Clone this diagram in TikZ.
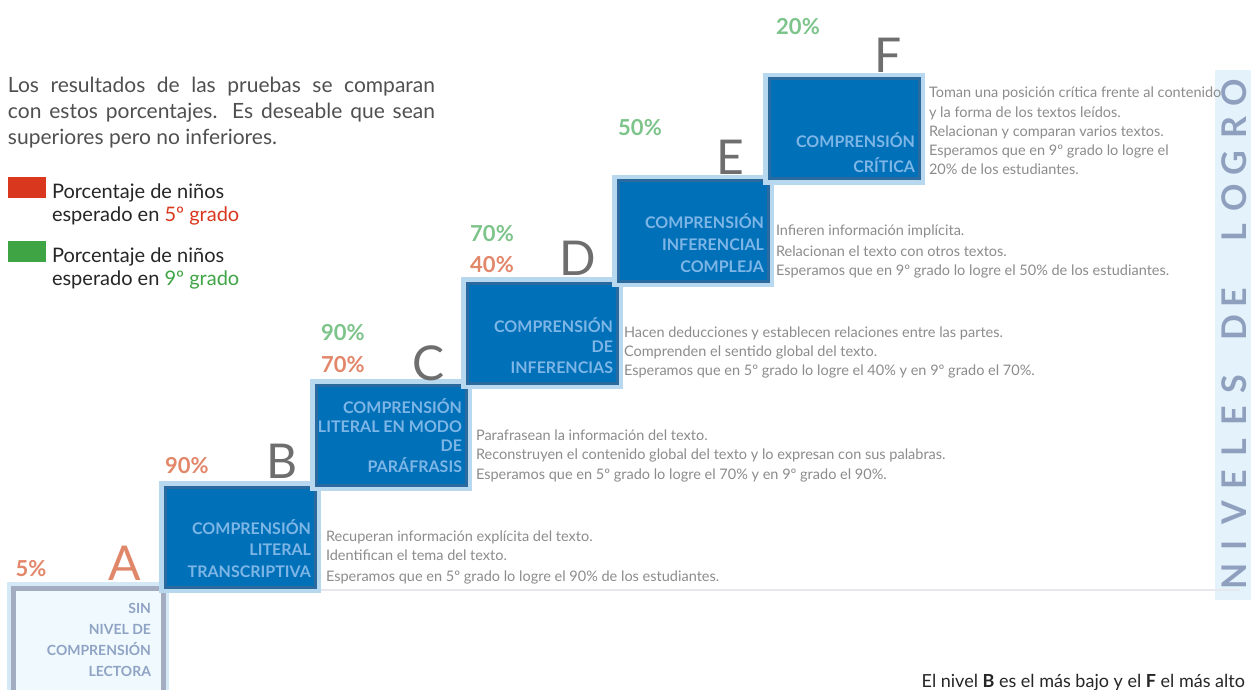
\documentclass[tikz,border=0pt]{standalone}
\usepackage{fontspec}
\setmainfont{Lato}
\newcommand\myfs[2]{\fontsize{#1}{#2}\selectfont}
\definecolor{boxblue}{HTML}{0070B8}
\definecolor{boxedge}{HTML}{2A6A9E}
\definecolor{glow}{HTML}{B8D8F0}
\definecolor{boxtxt}{HTML}{7DB6E6}
\definecolor{abox}{HTML}{A4ACC2}
\definecolor{aboxfill}{HTML}{F0F9FD}
\definecolor{aboxtxt}{HTML}{8FA3C4}
\definecolor{desctxt}{HTML}{8C8C8C}
\definecolor{lettergray}{HTML}{6E6E6E}
\definecolor{lettera}{HTML}{E0876A}
\definecolor{pctred}{HTML}{E2876A}
\definecolor{pctgreen}{HTML}{7DC48B}
\definecolor{legred}{HTML}{D9381E}
\definecolor{leggreen}{HTML}{3FA544}
\definecolor{vband}{HTML}{E4F2FB}
\definecolor{vtext}{HTML}{8FA0BF}
\definecolor{paratxt}{HTML}{505050}
\definecolor{faint}{HTML}{E6E8EE}
\tikzset{
  every node/.style={inner sep=0pt, outer sep=0pt},
  levelbox/.style={draw=boxedge, line width=3pt, fill=boxblue, preaction={draw=glow, line width=12pt}, minimum width=150pt, minimum height=100pt, anchor=north west},
  levelboxa/.style={draw=abox, line width=5pt, fill=aboxfill, preaction={draw=glow!60, line width=12pt}, minimum width=150pt, minimum height=104pt, anchor=north west},
  boxline/.style={anchor=base east, text=boxtxt, font=\myfs{16}{18}\bfseries},
  boxlinea/.style={anchor=base east, text=aboxtxt, font=\myfs{14}{16}\bfseries},
  descline/.style={anchor=base west, text=desctxt, font=\myfs{14.5}{17}},
  levlet/.style={anchor=base west, text=lettergray, font=\myfs{48}{48}},
  pcttext/.style={font=\myfs{22}{24}\bfseries},
  paraline/.style={anchor=base west, text=paratxt, font=\myfs{21}{26}},
  legline/.style={anchor=base west, text=black!85, font=\myfs{20}{24}},
  vletter/.style={rotate=90, anchor=base, text=vtext, font=\myfs{34}{34}\bfseries}
}
\begin{document}
\begin{tikzpicture}[x=1pt,y=-1pt]
\useasboundingbox (0,0) rectangle (1251,690);
\fill[white] (0,0) rectangle (1251,690);
% right band
\fill[vband] (1215,70) rectangle (1251,600);
% faint baseline
\coordinate (fl1) at (320,590);
\coordinate (fl2) at (1240,590);
\draw[faint, line width=1.5pt] (fl1) -- (fl2);

% paragraph
\node[paraline] (p1) at (8,93) {\makebox[427pt][s]{Los resultados de las pruebas se comparan}};
\node[paraline] (p2) at (8,119) {\makebox[427pt][s]{con estos porcentajes. Es deseable que sean}};
\node[paraline] (p3) at (8,145) {superiores pero no inferiores.};

% legend
\node[fill=legred, minimum width=38pt, minimum height=21pt, anchor=north west] (sqr) at (8,177) {};
\node[legline] (lr1) at (52,198) {Porcentaje de niños};
\node[legline] (lr2) at (52,222) {esperado en \textcolor{legred}{5º grado}};
\node[fill=leggreen, minimum width=38pt, minimum height=21pt, anchor=north west] (sqg) at (8,241) {};
\node[legline] (lg1) at (52,262) {Porcentaje de niños};
\node[legline] (lg2) at (52,285) {esperado en \textcolor{leggreen}{9º grado}};

% level A
\node[levelboxa] (boxA) at (13,588) {};
\node[boxlinea] (a1) at (151,613) {SIN};
\node[boxlinea] (a2) at (151,634) {NIVEL DE};
\node[boxlinea] (a3) at (151,655) {COMPRENSIÓN};
\node[boxlinea] (a4) at (151,676) {LECTORA};
\node[levlet, text=lettera] (labA) at (108,580) {A};
\node[pcttext, text=pctred] (pA) at (31,569) {5\%};

% level B
\node[levelbox] (boxB) at (165,487) {};
\node[boxline] (b1) at (311,534) {COMPRENSIÓN};
\node[boxline] (b2) at (311,555) {LITERAL};
\node[boxline] (b3) at (311,577) {TRANSCRIPTIVA};
\node[levlet] (labB) at (266,478) {B};
\node[pcttext, text=pctred] (pB) at (187,466) {90\%};
\node[descline] (dB1) at (326,541) {Recuperan información explícita del texto.};
\node[descline] (dB2) at (326,560) {Identifican el tema del texto.};
\node[descline] (dB3) at (326,581) {Esperamos que en 5º grado lo logre el 90\% de los estudiantes.};

% level C
\node[levelbox] (boxC) at (316,385) {};
\node[boxline] (c1) at (462,413) {COMPRENSIÓN};
\node[boxline] (c2) at (462,432) {LITERAL EN MODO};
\node[boxline] (c3) at (462,451) {DE};
\node[boxline] (c4) at (462,472) {PARÁFRASIS};
\node[levlet] (labC) at (412,380) {C};
\node[pcttext, text=pctgreen] (pC9) at (343,333) {90\%};
\node[pcttext, text=pctred] (pC5) at (343,365) {70\%};
\node[descline] (dC1) at (476,440) {Parafrasean la información del texto.};
\node[descline] (dC2) at (476,459) {Reconstruyen el contenido global del texto y lo expresan con sus palabras.};
\node[descline] (dC3) at (476,479) {Esperamos que en 5º grado lo logre el 70\% y en 9º grado el 90\%.};

% level D
\node[levelbox] (boxD) at (467,283) {};
\node[boxline] (d1) at (613,332) {COMPRENSIÓN};
\node[boxline] (d2) at (613,352) {DE};
\node[boxline] (d3) at (613,373) {INFERENCIAS};
\node[levlet] (labD) at (559,275) {D};
\node[pcttext, text=pctgreen] (pD9) at (492,234) {70\%};
\node[pcttext, text=pctred] (pD5) at (492,265) {40\%};
\node[descline] (dD1) at (624,337) {Hacen deducciones y establecen relaciones entre las partes.};
\node[descline] (dD2) at (624,356) {Comprenden el sentido global del texto.};
\node[descline] (dD3) at (624,375) {Esperamos que en 5º grado lo logre el 40\% y en 9º grado el 70\%.};

% level E
\node[levelbox] (boxE) at (618,181) {};
\node[boxline] (e1) at (764,228) {COMPRENSIÓN};
\node[boxline] (e2) at (764,250) {INFERENCIAL};
\node[boxline] (e3) at (764,272) {COMPLEJA};
\node[levlet] (labE) at (716,175) {E};
\node[pcttext, text=pctgreen] (pE9) at (640,128) {50\%};
\node[descline] (dE1) at (776,236) {Infieren información implícita.};
\node[descline] (dE2) at (776,256) {Relacionan el texto con otros textos.};
\node[descline] (dE3) at (776,275) {Esperamos que en 9º grado lo logre el 50\% de los estudiantes.};

% level F
\node[levelbox] (boxF) at (769,79) {};
\node[boxline] (f1) at (915,148) {COMPRENSIÓN};
\node[boxline] (f2) at (915,173) {CRÍTICA};
\node[levlet] (labF) at (874,73) {F};
\node[pcttext, text=pctgreen] (pF9) at (798,27) {20\%};
\node[descline] (dF1) at (929,98) {Toman una posición crítica frente al contenido};
\node[descline] (dF2) at (929,118) {y la forma de los textos leídos.};
\node[descline] (dF3) at (929,137) {Relacionan y comparan varios textos.};
\node[descline] (dF4) at (929,156) {Esperamos que en 9º grado lo logre el};
\node[descline] (dF5) at (929,175) {20\% de los estudiantes.};

% vertical title
\node[vletter] (v1) at (1246,576) {N};
\node[vletter] (v2) at (1246,545) {I};
\node[vletter] (v3) at (1246,513) {V};
\node[vletter] (v4) at (1246,480) {E};
\node[vletter] (v5) at (1246,448) {L};
\node[vletter] (v6) at (1246,416) {E};
\node[vletter] (v7) at (1246,384) {S};
\node[vletter] (v8) at (1246,328) {D};
\node[vletter] (v9) at (1246,298) {E};
\node[vletter] (v10) at (1246,233) {L};
\node[vletter] (v11) at (1246,198) {O};
\node[vletter] (v12) at (1246,163) {G};
\node[vletter] (v13) at (1246,128) {R};
\node[vletter] (v14) at (1246,93) {O};

% bottom note
\node[anchor=base east, text=black!85, font=\myfs{18}{20}] (note) at (1245,687) {El nivel \textbf{B} es el más bajo y el \textbf{F} el más alto};
\end{tikzpicture}
\end{document}
